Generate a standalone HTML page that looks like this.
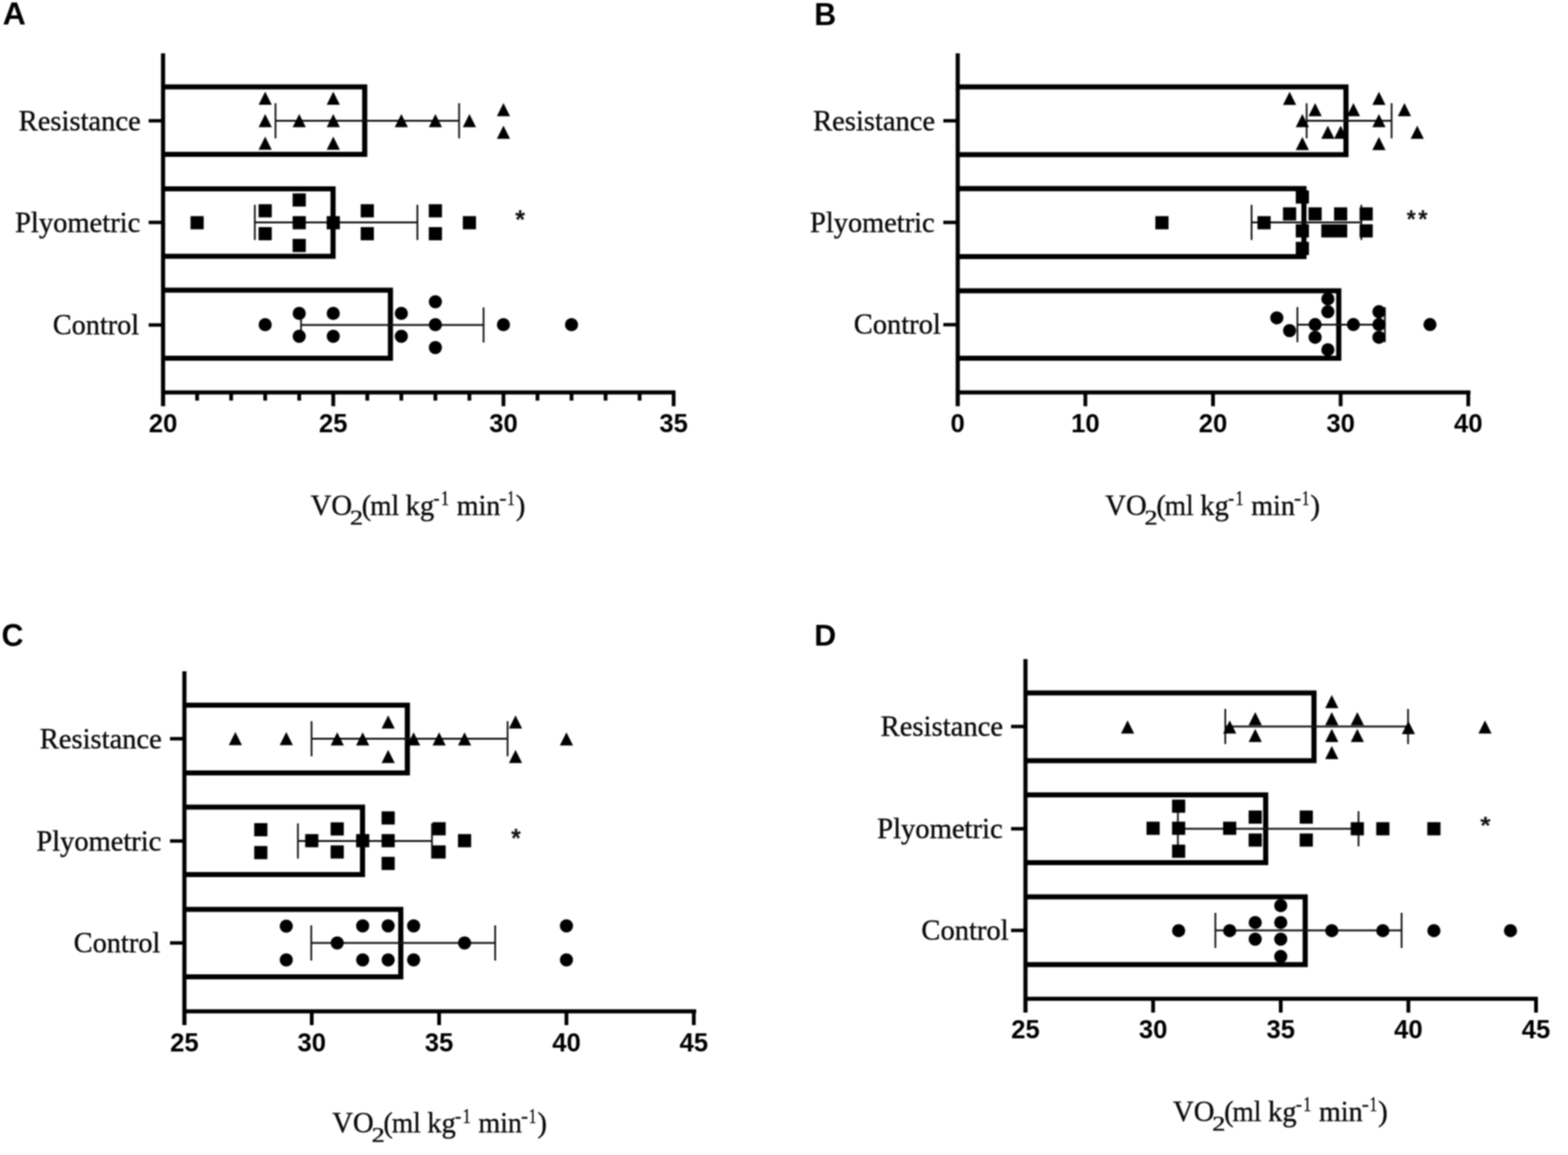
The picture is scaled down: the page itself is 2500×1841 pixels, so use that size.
<!DOCTYPE html>
<html lang="en"><head><meta charset="utf-8"><title>VO2 by training group</title>
<style>
html,body{margin:0;padding:0;background:#fff;}
svg{display:block;filter:blur(1px);}
.bar{fill:none;stroke:#000;stroke-width:8.2;stroke-linejoin:miter;}
.ax{fill:none;stroke:#000;stroke-width:6.6;}
.tk{fill:none;stroke:#000;stroke-width:6;}
.ctk{fill:none;stroke:#000;stroke-width:5.5;}
.eb{fill:none;stroke:#141414;stroke-width:2.8;}
.pt{fill:#000;}
.tl{font-family:"Liberation Sans",Arial,sans-serif;font-weight:bold;font-size:42px;text-anchor:middle;fill:#000;}
.cl{font-family:"Liberation Serif","Times New Roman",serif;font-size:47px;fill:#0a0a0a;stroke:#0a0a0a;stroke-width:0.6;}
.lt{font-family:"Liberation Sans",Arial,sans-serif;font-weight:bold;font-size:50px;fill:#000;}
.st{font-family:"Liberation Sans",Arial,sans-serif;font-weight:bold;font-size:40px;fill:#111;}
.ti47{font-family:"Liberation Serif","Times New Roman",serif;font-size:47px;fill:#0a0a0a;stroke:#0a0a0a;stroke-width:0.55;}
.ti34{font-family:"Liberation Serif","Times New Roman",serif;font-size:34px;fill:#0a0a0a;stroke:#0a0a0a;stroke-width:0.55;}
.ti33{font-family:"Liberation Serif","Times New Roman",serif;font-size:33px;fill:#0a0a0a;stroke:#0a0a0a;stroke-width:0.55;}
</style></head><body>
<svg width="2500" height="1841" viewBox="0 0 2500 1841">
<rect width="2500" height="1841" fill="#fff"/>
<g>
<path class="bar" d="M260 138.5H581.5V246H260M260 301H531V408.5H260M260 462.5H622.5V571H260"/>
<path class="ax" d="M260 85V647.5M256.7 625.5H1077"/>
<path class="tk" d="M531.35 625.5V647.5M802.7 625.5V647.5M1074.05 625.5V647.5"/>
<path class="tk" d="M314.27 625.5V638.5M368.54 625.5V638.5M422.81 625.5V638.5M477.08 625.5V638.5M585.62 625.5V638.5M639.89 625.5V638.5M694.16 625.5V638.5M748.43 625.5V638.5M856.97 625.5V638.5M911.24 625.5V638.5M965.51 625.5V638.5M1019.78 625.5V638.5"/>
<path class="ctk" d="M237 192.5H260M237 354.5H260M237 518H260"/>
<text class="tl" transform="translate(260 688.7) scale(0.975 1)">20</text>
<text class="tl" transform="translate(531.35 688.7) scale(0.975 1)">25</text>
<text class="tl" transform="translate(802.7 688.7) scale(0.975 1)">30</text>
<text class="tl" transform="translate(1074.05 688.7) scale(0.975 1)">35</text>
<text class="cl" transform="translate(29.83 208) scale(0.9682 1.0000)">Resistance</text>
<text class="cl" transform="translate(24.03 369.5) scale(0.9681 1.0000)">Plyometric</text>
<text class="cl" transform="translate(84.34 532.5) scale(0.9574 1.0000)">Control</text>
<path class="eb" d="M439.25 192.5H732M439.25 164.5V220.5M732 164.5V220.5"/>
<path class="eb" d="M406.25 354.5H665.5M406.25 326.5V382.5M665.5 326.5V382.5"/>
<path class="eb" d="M480 518H771M480 490V546M771 490V546"/>
<g class="pt"><path d="M422.81 146L433.31 167L412.31 167Z"/><path d="M422.81 181.75L433.31 202.75L412.31 202.75Z"/><path d="M422.81 217.75L433.31 238.75L412.31 238.75Z"/><path d="M477.08 181.75L487.58 202.75L466.58 202.75Z"/><path d="M531.35 146L541.85 167L520.85 167Z"/><path d="M531.35 181.75L541.85 202.75L520.85 202.75Z"/><path d="M531.35 217.75L541.85 238.75L520.85 238.75Z"/><path d="M639.89 181.75L650.39 202.75L629.39 202.75Z"/><path d="M694.16 181.75L704.66 202.75L683.66 202.75Z"/><path d="M748.43 181.75L758.93 202.75L737.93 202.75Z"/><path d="M802.7 164.25L813.2 185.25L792.2 185.25Z"/><path d="M802.7 200.25L813.2 221.25L792.2 221.25Z"/></g>
<g class="pt"><rect x="303.77" y="344.5" width="21" height="21"/><rect x="412.31" y="325.5" width="21" height="21"/><rect x="412.31" y="362" width="21" height="21"/><rect x="466.58" y="308.25" width="21" height="21"/><rect x="466.58" y="344.5" width="21" height="21"/><rect x="466.58" y="380.75" width="21" height="21"/><rect x="520.85" y="344.5" width="21" height="21"/><rect x="575.12" y="325.5" width="21" height="21"/><rect x="575.12" y="362" width="21" height="21"/><rect x="683.66" y="325.5" width="21" height="21"/><rect x="683.66" y="362" width="21" height="21"/><rect x="737.93" y="344.5" width="21" height="21"/></g>
<g class="pt"><circle cx="422.81" cy="517.5" r="10.5"/><circle cx="477.08" cy="499.5" r="10.5"/><circle cx="477.08" cy="536" r="10.5"/><circle cx="531.35" cy="499.5" r="10.5"/><circle cx="531.35" cy="536" r="10.5"/><circle cx="639.89" cy="499.5" r="10.5"/><circle cx="639.89" cy="536" r="10.5"/><circle cx="694.16" cy="481" r="10.5"/><circle cx="694.16" cy="517.5" r="10.5"/><circle cx="694.16" cy="554" r="10.5"/><circle cx="802.7" cy="517.5" r="10.5"/><circle cx="911.24" cy="517.5" r="10.5"/></g>
<text class="st" transform="translate(821.6 363.51) scale(1.0000 1.0467)">*</text>
<text class="lt" transform="translate(4.28 38.9) scale(1.0235 1.0000)">A</text>
<text class="ti47" transform="translate(495.23 821.3) scale(0.9738 1.0000)">VO</text>
<text class="ti34" transform="translate(557.94 835.7) scale(1.2308 1.0000)">2</text>
<text class="ti47" transform="translate(576.78 821.3) scale(0.9583 1.0000)">(</text>
<text class="ti47" transform="translate(590.17 821.3) scale(0.9292 1.0000)">ml</text>
<text class="ti47" transform="translate(646.73 821.3) scale(0.9689 1.0000)">kg</text>
<text class="ti33" transform="translate(691.11 805.4) scale(0.8889 1.0000)">-</text>
<text class="ti33" transform="translate(702.93 805.4) scale(0.7909 1.0000)">1</text>
<text class="ti47" transform="translate(728.15 821.3) scale(0.9507 1.0000)">min</text>
<text class="ti33" transform="translate(796.29 805.4) scale(1.0111 1.0000)">-</text>
<text class="ti33" transform="translate(808.85 805.4) scale(0.7182 1.0000)">1</text>
<text class="ti47" transform="translate(822.23 821.3) scale(0.9833 1.0000)">)</text>
</g>
<g>
<path class="bar" d="M1527 138.5H2146V246.5H1527M1527 300.6H2079V409H1527M1527 463.5H2134.5V571H1527"/>
<path class="ax" d="M1527 85V647.5M1523.7 625.5H2344.5"/>
<path class="tk" d="M1730.5 625.5V647.5M1934 625.5V647.5M2137.5 625.5V647.5M2341 625.5V647.5"/>
<path class="ctk" d="M1504 192.5H1527M1504 354.5H1527M1504 517.5H1527"/>
<text class="tl" transform="translate(1527 688.7) scale(0.975 1)">0</text>
<text class="tl" transform="translate(1730.5 688.7) scale(0.975 1)">10</text>
<text class="tl" transform="translate(1934 688.7) scale(0.975 1)">20</text>
<text class="tl" transform="translate(2137.5 688.7) scale(0.975 1)">30</text>
<text class="tl" transform="translate(2341 688.7) scale(0.975 1)">40</text>
<text class="cl" transform="translate(1296.53 207.5) scale(0.9672 1.0000)">Resistance</text>
<text class="cl" transform="translate(1291.54 369.5) scale(0.9632 1.0000)">Plyometric</text>
<text class="cl" transform="translate(1361.27 531.7) scale(0.9667 1.0000)">Control</text>
<path class="eb" d="M2083.25 192.5H2218.75M2083.25 164.5V220.5M2218.75 164.5V220.5"/>
<path class="eb" d="M1995.5 354.5H2170.5M1995.5 326.5V382.5M2170.5 326.5V382.5"/>
<path class="eb" d="M2068.6 517.5H2208M2068.6 489.5V545.5M2208 489.5V545.5"/>
<g class="pt"><path d="M2056.1 146.25L2066.6 167.25L2045.6 167.25Z"/><path d="M2076.45 181.75L2086.95 202.75L2065.95 202.75Z"/><path d="M2076.45 218.25L2086.95 239.25L2065.95 239.25Z"/><path d="M2096.8 164.25L2107.3 185.25L2086.3 185.25Z"/><path d="M2117.15 200.25L2127.65 221.25L2106.65 221.25Z"/><path d="M2137.5 200.25L2148 221.25L2127 221.25Z"/><path d="M2157.85 164.25L2168.35 185.25L2147.35 185.25Z"/><path d="M2198.55 146.25L2209.05 167.25L2188.05 167.25Z"/><path d="M2198.55 181.75L2209.05 202.75L2188.05 202.75Z"/><path d="M2198.55 218.25L2209.05 239.25L2188.05 239.25Z"/><path d="M2239.25 164.25L2249.75 185.25L2228.75 185.25Z"/><path d="M2259.6 200.25L2270.1 221.25L2249.1 221.25Z"/></g>
<g class="pt"><rect x="1842.1" y="344.5" width="21" height="21"/><rect x="2004.9" y="344.5" width="21" height="21"/><rect x="2045.6" y="330.5" width="21" height="21"/><rect x="2065.95" y="303.5" width="21" height="21"/><rect x="2065.95" y="357.5" width="21" height="21"/><rect x="2065.95" y="385.5" width="21" height="21"/><rect x="2086.3" y="330.5" width="21" height="21"/><rect x="2106.65" y="357.5" width="21" height="21"/><rect x="2127" y="330.5" width="21" height="21"/><rect x="2127" y="357.5" width="21" height="21"/><rect x="2167.7" y="330.5" width="21" height="21"/><rect x="2167.7" y="357.5" width="21" height="21"/></g>
<g class="pt"><circle cx="2035.75" cy="506.7" r="10.5"/><circle cx="2056.1" cy="527" r="10.5"/><circle cx="2096.8" cy="517.3" r="10.5"/><circle cx="2096.8" cy="537.7" r="10.5"/><circle cx="2117.15" cy="476.4" r="10.5"/><circle cx="2117.15" cy="496.8" r="10.5"/><circle cx="2117.15" cy="557.4" r="10.5"/><circle cx="2157.85" cy="517.3" r="10.5"/><circle cx="2198.55" cy="496.8" r="10.5"/><circle cx="2198.55" cy="517.3" r="10.5"/><circle cx="2198.55" cy="537.7" r="10.5"/><circle cx="2279.95" cy="517.3" r="10.5"/></g>
<text class="st" transform="translate(2242.8 363.43) scale(0.9267 1.0333)">*</text>
<text class="st" transform="translate(2261.3 363.43) scale(0.9467 1.0333)">*</text>
<text class="lt" transform="translate(1298.35 39.5) scale(0.9677 0.9857)">B</text>
<text class="ti47" transform="translate(1762.13 821.2) scale(0.9738 1.0000)">VO</text>
<text class="ti34" transform="translate(1824.84 835.6) scale(1.2308 1.0000)">2</text>
<text class="ti47" transform="translate(1843.68 821.2) scale(0.9583 1.0000)">(</text>
<text class="ti47" transform="translate(1857.07 821.2) scale(0.9292 1.0000)">ml</text>
<text class="ti47" transform="translate(1913.63 821.2) scale(0.9689 1.0000)">kg</text>
<text class="ti33" transform="translate(1958.01 805.3) scale(0.8889 1.0000)">-</text>
<text class="ti33" transform="translate(1969.83 805.3) scale(0.7909 1.0000)">1</text>
<text class="ti47" transform="translate(1995.05 821.2) scale(0.9507 1.0000)">min</text>
<text class="ti33" transform="translate(2063.19 805.3) scale(1.0111 1.0000)">-</text>
<text class="ti33" transform="translate(2075.75 805.3) scale(0.7182 1.0000)">1</text>
<text class="ti47" transform="translate(2089.13 821.2) scale(0.9833 1.0000)">)</text>
</g>
<g>
<path class="bar" d="M294 1124H649.5V1232H294M294 1286.5H578V1394H294M294 1449.5H639V1557H294"/>
<path class="ax" d="M294 1070V1634M290.7 1612H1110"/>
<path class="tk" d="M497.05 1612V1634M700.1 1612V1634M903.15 1612V1634M1106.2 1612V1634"/>
<path class="ctk" d="M271 1177.5H294M271 1340.5H294M271 1503H294"/>
<text class="tl" transform="translate(294 1675.7) scale(0.975 1)">25</text>
<text class="tl" transform="translate(497.05 1675.7) scale(0.975 1)">30</text>
<text class="tl" transform="translate(700.1 1675.7) scale(0.975 1)">35</text>
<text class="tl" transform="translate(903.15 1675.7) scale(0.975 1)">40</text>
<text class="tl" transform="translate(1106.2 1675.7) scale(0.975 1)">45</text>
<text class="cl" transform="translate(63.53 1192.5) scale(0.9672 1.0000)">Resistance</text>
<text class="cl" transform="translate(58.03 1355.5) scale(0.9657 1.0000)">Plyometric</text>
<text class="cl" transform="translate(117.58 1517.5) scale(0.9610 1.0000)">Control</text>
<path class="eb" d="M496.75 1177.5H809.25M496.75 1149.5V1205.5M809.25 1149.5V1205.5"/>
<path class="eb" d="M475 1340.5H688.75M475 1312.5V1368.5M688.75 1312.5V1368.5"/>
<path class="eb" d="M496.25 1503H789.5M496.25 1475V1531M789.5 1475V1531"/>
<g class="pt"><path d="M375.22 1166.75L385.72 1187.75L364.72 1187.75Z"/><path d="M456.44 1166.75L466.94 1187.75L445.94 1187.75Z"/><path d="M537.66 1167.25L548.16 1188.25L527.16 1188.25Z"/><path d="M578.27 1167.25L588.77 1188.25L567.77 1188.25Z"/><path d="M618.88 1140.25L629.38 1161.25L608.38 1161.25Z"/><path d="M618.88 1195.25L629.38 1216.25L608.38 1216.25Z"/><path d="M659.49 1167.25L669.99 1188.25L648.99 1188.25Z"/><path d="M700.1 1167.25L710.6 1188.25L689.6 1188.25Z"/><path d="M740.71 1167.25L751.21 1188.25L730.21 1188.25Z"/><path d="M821.93 1140.25L832.43 1161.25L811.43 1161.25Z"/><path d="M821.93 1195.25L832.43 1216.25L811.43 1216.25Z"/><path d="M903.15 1167.25L913.65 1188.25L892.65 1188.25Z"/></g>
<g class="pt"><rect x="405.33" y="1312" width="21" height="21"/><rect x="405.33" y="1348.5" width="21" height="21"/><rect x="486.55" y="1329.5" width="21" height="21"/><rect x="527.16" y="1310.75" width="21" height="21"/><rect x="527.16" y="1347.5" width="21" height="21"/><rect x="567.77" y="1329.5" width="21" height="21"/><rect x="608.38" y="1293.25" width="21" height="21"/><rect x="608.38" y="1329.5" width="21" height="21"/><rect x="608.38" y="1365.75" width="21" height="21"/><rect x="689.6" y="1310.5" width="21" height="21"/><rect x="689.6" y="1347.5" width="21" height="21"/><rect x="730.21" y="1329.5" width="21" height="21"/></g>
<g class="pt"><circle cx="456.44" cy="1476.25" r="10.5"/><circle cx="456.44" cy="1530" r="10.5"/><circle cx="537.66" cy="1503" r="10.5"/><circle cx="578.27" cy="1475.75" r="10.5"/><circle cx="578.27" cy="1530" r="10.5"/><circle cx="618.88" cy="1475.75" r="10.5"/><circle cx="618.88" cy="1530" r="10.5"/><circle cx="659.49" cy="1475.75" r="10.5"/><circle cx="659.49" cy="1530" r="10.5"/><circle cx="740.71" cy="1503" r="10.5"/><circle cx="903.15" cy="1475.75" r="10.5"/><circle cx="903.15" cy="1530" r="10.5"/></g>
<text class="st" transform="translate(814.9 1349.81) scale(0.9800 1.0467)">*</text>
<text class="lt" transform="translate(2.56 1029.5) scale(0.9688 1.0000)">C</text>
<text class="ti47" transform="translate(529.73 1805.4) scale(0.9738 1.0000)">VO</text>
<text class="ti34" transform="translate(592.44 1819.8) scale(1.2308 1.0000)">2</text>
<text class="ti47" transform="translate(611.28 1805.4) scale(0.9583 1.0000)">(</text>
<text class="ti47" transform="translate(624.67 1805.4) scale(0.9292 1.0000)">ml</text>
<text class="ti47" transform="translate(681.23 1805.4) scale(0.9689 1.0000)">kg</text>
<text class="ti33" transform="translate(725.61 1789.5) scale(0.8889 1.0000)">-</text>
<text class="ti33" transform="translate(737.43 1789.5) scale(0.7909 1.0000)">1</text>
<text class="ti47" transform="translate(762.65 1805.4) scale(0.9507 1.0000)">min</text>
<text class="ti33" transform="translate(830.79 1789.5) scale(1.0111 1.0000)">-</text>
<text class="ti33" transform="translate(843.35 1789.5) scale(0.7182 1.0000)">1</text>
<text class="ti47" transform="translate(856.73 1805.4) scale(0.9833 1.0000)">)</text>
</g>
<g>
<path class="bar" d="M1635 1104.5H2095V1212.5H1635M1635 1267H2018V1375H1635M1635 1429.5H2081V1537.5H1635"/>
<path class="ax" d="M1635 1050.5V1614M1631.7 1592H2452"/>
<path class="tk" d="M1838.5 1592V1614M2042 1592V1614M2245.5 1592V1614M2449 1592V1614"/>
<path class="ctk" d="M1612 1158H1635M1612 1321H1635M1612 1483H1635"/>
<text class="tl" transform="translate(1635 1654.7) scale(0.975 1)">25</text>
<text class="tl" transform="translate(1838.5 1654.7) scale(0.975 1)">30</text>
<text class="tl" transform="translate(2042 1654.7) scale(0.975 1)">35</text>
<text class="tl" transform="translate(2245.5 1654.7) scale(0.975 1)">40</text>
<text class="tl" transform="translate(2449 1654.7) scale(0.975 1)">45</text>
<text class="cl" transform="translate(1404.03 1173) scale(0.9722 1.0000)">Resistance</text>
<text class="cl" transform="translate(1398.53 1336) scale(0.9706 1.0000)">Plyometric</text>
<text class="cl" transform="translate(1469.06 1497.5) scale(0.9681 1.0000)">Control</text>
<path class="eb" d="M1953.6 1158H2245M1953.6 1130V1186M2245 1130V1186"/>
<path class="eb" d="M1878 1321H2166M1878 1293V1349M2166 1293V1349"/>
<path class="eb" d="M1937.8 1483H2234.7M1937.8 1455V1511M2234.7 1455V1511"/>
<g class="pt"><path d="M1797.8 1148.25L1808.3 1169.25L1787.3 1169.25Z"/><path d="M1960.6 1148.25L1971.1 1169.25L1950.1 1169.25Z"/><path d="M2001.3 1134.95L2011.8 1155.95L1990.8 1155.95Z"/><path d="M2001.3 1161.75L2011.8 1182.75L1990.8 1182.75Z"/><path d="M2123.4 1107.75L2133.9 1128.75L2112.9 1128.75Z"/><path d="M2123.4 1134.95L2133.9 1155.95L2112.9 1155.95Z"/><path d="M2123.4 1161.75L2133.9 1182.75L2112.9 1182.75Z"/><path d="M2123.4 1188.95L2133.9 1209.95L2112.9 1209.95Z"/><path d="M2164.1 1134.95L2174.6 1155.95L2153.6 1155.95Z"/><path d="M2164.1 1161.75L2174.6 1182.75L2153.6 1182.75Z"/><path d="M2245.5 1149.25L2256 1170.25L2235 1170.25Z"/><path d="M2367.6 1148.25L2378.1 1169.25L2357.1 1169.25Z"/></g>
<g class="pt"><rect x="1828" y="1309.7" width="21" height="21"/><rect x="1868.7" y="1274.5" width="21" height="21"/><rect x="1868.7" y="1309.7" width="21" height="21"/><rect x="1868.7" y="1346.3" width="21" height="21"/><rect x="1950.1" y="1309.7" width="21" height="21"/><rect x="1990.8" y="1291.9" width="21" height="21"/><rect x="1990.8" y="1328.5" width="21" height="21"/><rect x="2072.2" y="1291.9" width="21" height="21"/><rect x="2072.2" y="1328.5" width="21" height="21"/><rect x="2153.6" y="1310.5" width="21" height="21"/><rect x="2194.3" y="1310.5" width="21" height="21"/><rect x="2275.7" y="1310.5" width="21" height="21"/></g>
<g class="pt"><circle cx="1879.2" cy="1483.4" r="10.5"/><circle cx="1960.6" cy="1483.4" r="10.5"/><circle cx="2001.3" cy="1470.4" r="10.5"/><circle cx="2001.3" cy="1497" r="10.5"/><circle cx="2042" cy="1443.5" r="10.5"/><circle cx="2042" cy="1470.4" r="10.5"/><circle cx="2042" cy="1497" r="10.5"/><circle cx="2042" cy="1524.6" r="10.5"/><circle cx="2123.4" cy="1483.4" r="10.5"/><circle cx="2204.8" cy="1483.4" r="10.5"/><circle cx="2286.2" cy="1483.4" r="10.5"/><circle cx="2408.3" cy="1483.4" r="10.5"/></g>
<text class="st" transform="translate(2360.1 1328.53) scale(1.0667 0.9867)">*</text>
<text class="lt" transform="translate(1298.35 1028.75) scale(0.9677 0.9643)">D</text>
<text class="ti47" transform="translate(1870.13 1787.2) scale(0.9738 1.0000)">VO</text>
<text class="ti34" transform="translate(1932.84 1801.6) scale(1.2308 1.0000)">2</text>
<text class="ti47" transform="translate(1951.68 1787.2) scale(0.9583 1.0000)">(</text>
<text class="ti47" transform="translate(1965.07 1787.2) scale(0.9292 1.0000)">ml</text>
<text class="ti47" transform="translate(2021.63 1787.2) scale(0.9689 1.0000)">kg</text>
<text class="ti33" transform="translate(2066.01 1771.3) scale(0.8889 1.0000)">-</text>
<text class="ti33" transform="translate(2077.83 1771.3) scale(0.7909 1.0000)">1</text>
<text class="ti47" transform="translate(2103.05 1787.2) scale(0.9507 1.0000)">min</text>
<text class="ti33" transform="translate(2171.19 1771.3) scale(1.0111 1.0000)">-</text>
<text class="ti33" transform="translate(2183.75 1771.3) scale(0.7182 1.0000)">1</text>
<text class="ti47" transform="translate(2197.13 1787.2) scale(0.9833 1.0000)">)</text>
</g>
</svg>
</body></html>
